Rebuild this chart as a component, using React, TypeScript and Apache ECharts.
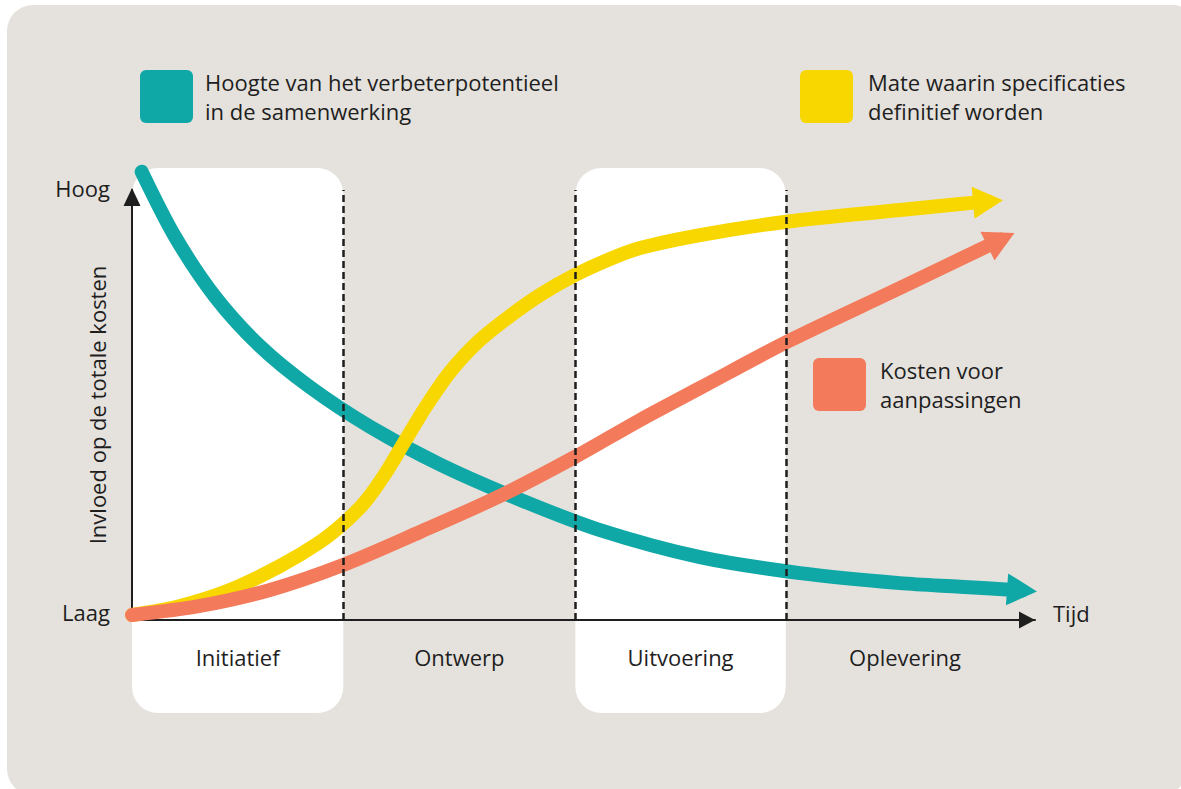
import React, { useEffect, useRef } from "react";
import * as echarts from "echarts";

// ---- data ----
const phaseNames = ["Initiatief", "Ontwerp", "Uitvoering", "Oplevering"];
const phaseBounds = [0, 23.4, 49.1, 72.4, 98.8];
const highlightedPhases = [0, 2];
const yTickLabels = ["Laag", "Hoog"];
const xAxisName = "Tijd";
const yAxisName = "Invloed op de totale kosten";

const legendTeal = ["Hoogte van het verbeterpotentieel", "in de samenwerking"];
const legendYellow = ["Mate waarin specificaties", "definitief worden"];
const legendOrange = ["Kosten voor", "aanpassingen"];

// [time, value]; last point carries the arrow head
const tealValues: number[][] = [
  [1.07, 104.26], [4.76, 89.16], [9.19, 75.21], [14.17, 63.7], [19.71, 54.16],
  [26.36, 44.95], [34.11, 36.16], [42.97, 27.98], [51.83, 20.91], [62.9, 14.63],
  [73.98, 10.91], [85.05, 8.58], [91.69, 7.74], [98.56, 6.88],
];
const yellowValues: number[][] = [
  [0, 1.16], [5.32, 3.26], [10.85, 6.98], [16.39, 12.56], [20.82, 18.14], [23.59, 22.79],
  [25.8, 27.44], [28.02, 33.95], [30.23, 41.63], [32.45, 49.3], [35.22, 57.67],
  [38.54, 65.12], [41.86, 70.7], [45.18, 75.58], [48.84, 80.0], [52.93, 83.95],
  [56.26, 86.51], [62.9, 89.53], [72.5, 92.63], [85.05, 95.35], [91.69, 96.74], [94.8, 97.33],
];
const orangeValues: number[][] = [
  [0, 1.16], [7.53, 3.26], [15.28, 6.98], [23.37, 12.79], [31.89, 20.47], [40.75, 28.84],
  [48.84, 37.67], [56.26, 46.51], [62.9, 53.95], [72.5, 64.65], [85.05, 77.21], [96.23, 88.49],
];
const arrowRotation = { teal: -94, yellow: -85, orange: -64 };

const TEAL = "#10a8a6";
const YELLOW = "#f8d700";
const ORANGE = "#f37b5b";
const BEIGE = "#e5e2dd";
const INK = "#1e1e1e";
const FONT = "'Open Sans', 'Noto Sans', sans-serif";
const FS = 22;

function withArrow(values: number[][], rot: number, color: string) {
  return values.map((v, i) =>
    i === values.length - 1
      ? { value: v, symbol: "triangle", symbolSize: [32, 30], symbolRotate: rot, itemStyle: { color } }
      : { value: v }
  );
}

function curve(name: string, values: number[][], rot: number, color: string, z: number) {
  return {
    name,
    type: "line",
    data: withArrow(values, rot, color),
    smooth: 0.3,
    symbol: "none",
    showSymbol: true,
    clip: false,
    z,
    lineStyle: { color, width: 14, cap: "round", join: "round" },
    itemStyle: { color },
    emphasis: { disabled: true },
  };
}

export default function App() {
  const ref = useRef<HTMLDivElement>(null);
  useEffect(() => {
    if (!ref.current) return;
    const chart = echarts.init(ref.current, undefined, { renderer: "svg" });
    const option: any = {
      animation: false,
      backgroundColor: "#ffffff",
      grid: { left: 132, right: 146, top: 190, bottom: 169, containLabel: false, outerBoundsMode: "none" },
      xAxis: {
        type: "value",
        min: 0,
        max: 100,
        name: "{t|" + xAxisName + "}",
        nameLocation: "end",
        nameGap: 18,
        nameMoveOverlap: false,
        nameTextStyle: {
          color: INK,
          fontSize: FS,
          fontFamily: FONT,
          rich: { t: { color: INK, fontSize: FS, fontFamily: FONT, padding: [0, 0, 14, 0] } },
        },
        axisLine: {
          show: true,
          onZero: false,
          symbol: ["none", "triangle"],
          symbolSize: [17, 16],
          symbolOffset: [0, -8],
          lineStyle: { color: INK, width: 2 },
        },
        axisTick: { show: false },
        axisLabel: { show: false },
        splitLine: { show: false },
      },
      yAxis: {
        type: "value",
        min: 0,
        max: 100,
        interval: 100,
        name: yAxisName,
        nameLocation: "middle",
        nameGap: 24,
        nameMoveOverlap: false,
        nameTextStyle: { color: INK, fontSize: FS, fontFamily: FONT },
        axisLine: {
          show: true,
          onZero: false,
          symbol: ["none", "triangle"],
          symbolSize: [17, 18],
          symbolOffset: [0, -7],
          lineStyle: { color: INK, width: 2 },
        },
        axisTick: { show: false },
        splitLine: { show: false },
        axisLabel: {
          margin: 22,
          color: INK,
          fontSize: FS,
          fontFamily: FONT,
          formatter: (v: number) => (v === 0 ? "{lo|" + yTickLabels[0] + "}" : "{hi|" + yTickLabels[1] + "}"),
          rich: {
            lo: { fontSize: FS, fontFamily: FONT, color: INK, padding: [0, 0, 16, 0] },
            hi: { fontSize: FS, fontFamily: FONT, color: INK, padding: [0, 0, 4, 0] },
          },
        },
      },
      series: [
        curve("teal", tealValues, arrowRotation.teal, TEAL, 2),
        curve("yellow", yellowValues, arrowRotation.yellow, YELLOW, 3),
        curve("orange", orangeValues, arrowRotation.orange, ORANGE, 4),
        {
          name: "phases",
          type: "line",
          data: [],
          z: 6,
          markLine: {
            silent: true,
            symbol: "none",
            label: { show: false },
            lineStyle: { color: INK, width: 2.5, type: [7, 4] },
            data: phaseBounds.slice(1, 4).map((b) => ({ xAxis: b })),
          },
        },
      ],
    };
    chart.setOption(option);

    const px = (x: number) => (chart.convertToPixel({ gridIndex: 0 } as any, [x, 0]) as number[])[0];
    const gfx: any[] = [
      {
        type: "rect",
        z: -20,
        silent: true,
        shape: { x: 7, y: 5, width: 1180, height: 790, r: [26, 12, 26, 26] },
        style: { fill: BEIGE },
      },
    ];
    highlightedPhases.forEach((i) => {
      const x0 = px(phaseBounds[i]);
      const x1 = px(phaseBounds[i + 1]);
      gfx.push({
        type: "rect",
        z: -10,
        silent: true,
        shape: { x: x0, y: 168, width: x1 - x0, height: 545, r: 26 },
        style: { fill: "#ffffff" },
      });
    });
    phaseNames.forEach((n, i) => {
      gfx.push({
        type: "text",
        z: 10,
        x: (px(phaseBounds[i]) + px(phaseBounds[i + 1])) / 2,
        y: 657,
        style: { text: n, fill: INK, font: FS + "px " + FONT, align: "center", verticalAlign: "middle" },
      });
    });
    const legend = (sx: number, sy: number, color: string, lines: string[], tx: number) => {
      gfx.push({
        type: "rect",
        z: 10,
        shape: { x: sx, y: sy, width: 53, height: 53, r: 6 },
        style: { fill: color },
      });
      // two lines, placed around the square's middle
      lines.forEach((line, k) => {
        gfx.push({
          type: "text",
          z: 10,
          x: tx,
          y: sy + 26.5 + (k === 0 ? -14.5 : 14.5),
          style: {
            text: line,
            fill: INK,
            font: FS + "px " + FONT,
            align: "left",
            verticalAlign: "middle",
          },
        });
      });
    };
    legend(140, 70, TEAL, legendTeal, 205);
    legend(800, 70, YELLOW, legendYellow, 868);
    legend(813, 358, ORANGE, legendOrange, 880);
    chart.setOption({ graphic: gfx });

    return () => chart.dispose();
  }, []);
  return <div ref={ref} style={{ position: "absolute", left: 0, top: 0, width: 1181, height: 789 }} />;
}
